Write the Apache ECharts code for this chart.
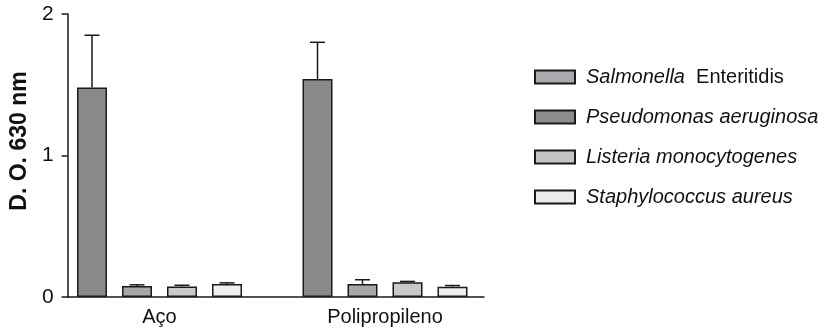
<!DOCTYPE html>
<html>
<head>
<meta charset="utf-8">
<script src="https://cdn.jsdelivr.net/npm/echarts@6/dist/echarts.min.js"></script>
<style>
html,body{margin:0;padding:0;background:#fff;}
#chart{width:825px;height:332px;}
</style>
</head>
<body>
<div id="chart"></div>
<script>
var categories = ['Aço', 'Polipropileno'];
var seriesNames = ['Salmonella Enteritidis', 'Pseudomonas aeruginosa', 'Listeria monocytogenes', 'Staphylococcus aureus'];
var salmonella = [1.48, 1.54];
var pseudomonas = [0.078, 0.092];
var listeria = [0.075, 0.104];
var staphylococcus = [0.092, 0.073];
var salmonellaErr = [0.37, 0.26];
var pseudomonasErr = [0.008, 0.03];
var listeriaErr = [0.008, 0.006];
var staphylococcusErr = [0.008, 0.008];
var yTicks = [0, 1, 2];

var values = [salmonella, pseudomonas, listeria, staphylococcus];
var errors = [salmonellaErr, pseudomonasErr, listeriaErr, staphylococcusErr];
var barColors = ['#8a8a8a', '#a6a6a6', '#c9c9c9', '#efefef'];
var legendColors = ['#a9a9ae', '#8c8c8c', '#c4c4c4', '#ececec'];

var FONT = 'Liberation Sans, Arial, sans-serif';
var BAR_W = 30, BAR_GAP = '50%';

var errData = [];
values.forEach(function (arr, si) {
  arr.forEach(function (v, ci) {
    errData.push([ci, v, v + errors[si][ci], si]);
  });
});

var series = values.map(function (arr, si) {
  return {
    name: seriesNames[si],
    type: 'bar',
    xAxisIndex: 0,
    yAxisIndex: 0,
    barWidth: BAR_W,
    barGap: BAR_GAP,
    data: arr,
    itemStyle: { color: barColors[si], borderColor: '#1a1a1a', borderWidth: 1.5 },
    emphasis: { disabled: true }
  };
});

series.push({
  type: 'custom',
  name: 'err',
  xAxisIndex: 0,
  yAxisIndex: 0,
  data: errData,
  z: 1,
  silent: true,
  renderItem: function (params, api) {
    var ci = api.value(0), si = api.value(3);
    var layout = api.barLayout ? api.barLayout({ barWidth: BAR_W, barGap: BAR_GAP, count: 4 }) : null;
    var base = api.coord([ci, api.value(1)]);
    var top = api.coord([ci, api.value(2)]);
    var off = layout ? layout[si].offsetCenter : (si - 1.5) * BAR_W * 1.5;
    var x = base[0] + off;
    var half = BAR_W * 0.25;
    return {
      type: 'group',
      children: [
        { type: 'line', shape: { x1: x, y1: base[1], x2: x, y2: top[1] }, style: { stroke: '#1a1a1a', lineWidth: 1.5 } },
        { type: 'line', shape: { x1: x - half, y1: top[1], x2: x + half, y2: top[1] }, style: { stroke: '#1a1a1a', lineWidth: 1.5 } }
      ]
    };
  }
});

var legendData = seriesNames.map(function (n, i) {
  return { name: n, itemStyle: { color: legendColors[i], borderColor: '#1a1a1a', borderWidth: 2 } };
});

var option = {
  animation: false,
  backgroundColor: '#fff',
  grid: [
    { left: 46.75, width: 451, top: 14, height: 283 },
    { left: 61, width: 423, top: 14, height: 283 }
  ],
  xAxis: [
    {
      type: 'category', gridIndex: 0, data: categories,
      axisLine: { show: false }, axisTick: { show: false },
      axisLabel: { fontFamily: FONT, fontSize: 20, color: '#111', margin: 10 }
    },
    {
      type: 'category', gridIndex: 1, data: categories,
      axisLine: { show: true, lineStyle: { color: '#1a1a1a', width: 1.5 } },
      axisTick: { show: false }, axisLabel: { show: false }
    }
  ],
  yAxis: [
    { type: 'value', gridIndex: 0, min: 0, max: 2, interval: 1, show: false },
    {
      type: 'value', gridIndex: 1, min: 0, max: 2, interval: 1,
      name: 'D. O. 630 nm', nameLocation: 'middle', nameGap: 34,
      nameTextStyle: { fontFamily: FONT, fontSize: 23, fontWeight: 'bold', color: '#111', padding: [0, 0, 0, 29] },
      axisLine: { show: true, lineStyle: { color: '#1a1a1a', width: 1.5 } },
      axisTick: { show: true, length: 6, lineStyle: { color: '#1a1a1a', width: 1.5 } },
      axisLabel: { fontFamily: FONT, fontSize: 21, color: '#111', margin: 14,
        formatter: function (v) { return yTicks.indexOf(v) >= 0 ? String(v) : ''; } },
      splitLine: { show: false }
    }
  ],
  legend: {
    orient: 'vertical',
    left: 529,
    top: 62,
    padding: 5,
    itemWidth: 40,
    itemHeight: 13,
    itemGap: 20,
    icon: 'rect',
    selectedMode: false,
    data: legendData,
    formatter: function (name) {
      if (name === 'Salmonella Enteritidis') return '{i|Salmonella}  {n|Enteritidis}';
      return '{i|' + name + '}';
    },
    textStyle: {
      fontFamily: FONT, fontSize: 20, color: '#111', padding: [0, 0, 0, 6],
      rich: {
        i: { fontFamily: FONT, fontSize: 20, fontStyle: 'italic', color: '#111' },
        n: { fontFamily: FONT, fontSize: 20, color: '#111' }
      }
    }
  },
  series: series
};

var chart = echarts.init(document.getElementById('chart'), null, { renderer: 'canvas' });
chart.setOption(option);
</script>
</body>
</html>
